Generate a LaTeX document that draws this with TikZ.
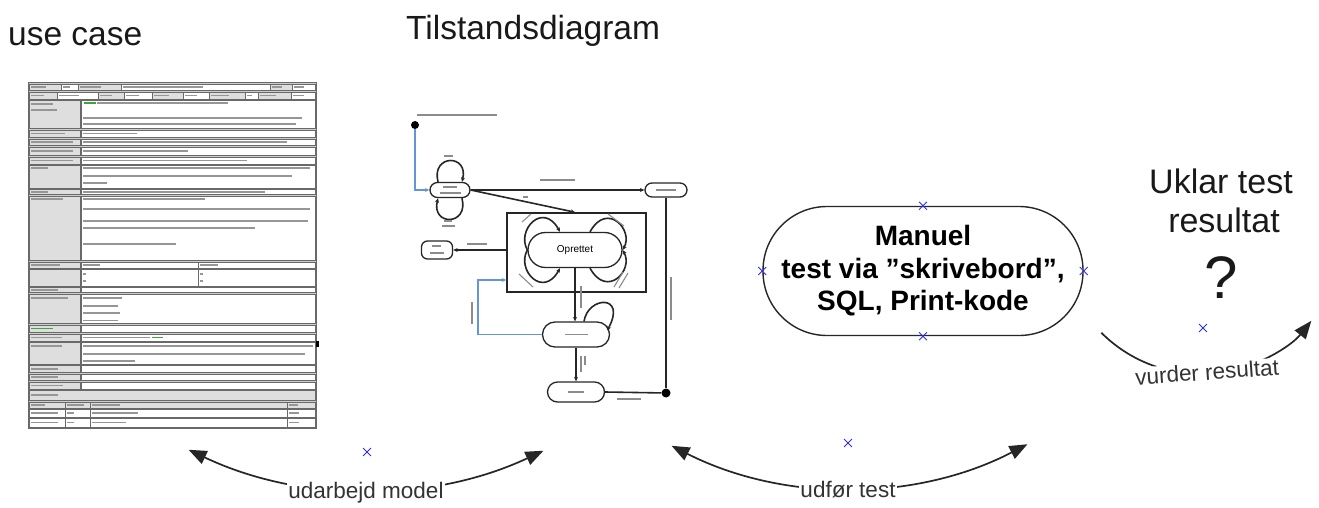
\documentclass[tikz,border=0pt]{standalone}
\usepackage{fontspec}
\setmainfont{Liberation Sans}
\usetikzlibrary{arrows.meta,calc,shapes.misc}

\definecolor{handleblue}{RGB}{45,45,235}
\definecolor{flowblue}{RGB}{100,150,215}
\definecolor{cellgrey}{RGB}{222,222,222}
\definecolor{gridbg}{RGB}{205,205,205}
\definecolor{gridline}{RGB}{105,105,105}
\definecolor{txtgrey}{RGB}{150,150,150}
\definecolor{linkgreen}{RGB}{60,165,60}

\begin{document}
\begin{tikzpicture}[x=1pt,y=-1pt,
  title/.style={anchor=base west, inner sep=0pt, font=\fontsize{33.5}{40}\selectfont, text=black!90},
  cyclelabel/.style={fill=white, inner sep=1pt, text=black!80, font=\fontsize{22.5}{27}\selectfont},
  cyclearc/.style={draw=black!85, line width=1.7pt, -{Triangle[length=18pt,width=14pt]}},
  cycledouble/.style={cyclearc, {Triangle[length=18pt,width=14pt]}-{Triangle[length=18pt,width=14pt]}},
  handle/.style={cross out, draw=handleblue, minimum size=7pt, inner sep=0pt, line width=0.9pt},
  testbox/.style={draw=black!85, line width=1.4pt, rounded corners=64pt, minimum width=320pt,
    minimum height=129pt, align=center, font=\bfseries\fontsize{28}{32.5}\selectfont},
  bigtext/.style={anchor=base, inner sep=0pt, font=\fontsize{34}{39}\selectfont, text=black!90},
  cellline/.style={draw=gridline, line width=0.7pt},
  txtbar/.style={draw=txtgrey, line width=1.4pt},
  greenbar/.style={draw=linkgreen, line width=1.4pt},
  sdline/.style={draw=black!85, line width=1.6pt},
  sdflow/.style={draw=flowblue, line width=1.4pt},
  sdstate/.style={draw=black!85, line width=1.3pt, fill=white, inner sep=0pt},
  sdtxt/.style={draw=black!45, line width=1.1pt},
  sddot/.style={circle, fill=black, inner sep=0pt},
  sdtip/.style={-{Stealth[length=4.5pt,width=4pt]}}
]
\useasboundingbox (0,0) rectangle (1319,508);

% ---------- headings ----------
\node[title] (ucTitle) at (8,46) {use case};
\node[title] (sdTitle) at (406,40) {Tilstandsdiagram};

% ---------- use case document ----------
\fill[gridbg] (28,83) rectangle (316,428);
% header rows
\foreach \a/\b/\f in {29/61/cellgrey, 61/78/white, 78/121/cellgrey, 121/270/white, 270/292/cellgrey, 292/315/white}
  {\filldraw[cellline, fill=\f] (\a,84) rectangle (\b,90);
   \draw[txtbar] (\a+2,87) -- ({\a+2+0.55*(\b-\a-4)},87);}
\foreach \a/\b/\f in {29/57/cellgrey, 57/98/white, 98/124/cellgrey, 124/152/white, 152/183/cellgrey, 183/209/white, 209/245/cellgrey, 245/258/white, 258/291/cellgrey, 291/315/white}
  {\filldraw[cellline, fill=\f] (\a,92) rectangle (\b,99);
   \draw[txtbar] (\a+2,95.5) -- ({\a+2+0.55*(\b-\a-4)},95.5);}
% body rows: label cell + content cell
\foreach \t/\b in {100/128, 130/137, 139/145.5, 147/155, 157/164, 165/188, 189.5/194.5, 196/260,
                   287/292.5, 294/323, 325/332, 334/341, 342/364, 365.5/372, 374/380.5, 382/389}
  {\filldraw[cellline, fill=cellgrey] (29,\t) rectangle (80,\b);
   \filldraw[cellline, fill=white] (81,\t) rectangle (315,\b);}
% rows with two content columns
\foreach \t/\b in {262/268, 269/286}
  {\filldraw[cellline, fill=cellgrey] (29,\t) rectangle (80,\b);
   \filldraw[cellline, fill=white] (81,\t) rectangle (198,\b);
   \filldraw[cellline, fill=white] (198,\t) rectangle (315,\b);}
% revision history
\filldraw[cellline, fill=cellgrey] (29,390.5) rectangle (315,400.5);
\foreach \t/\b/\f in {402/408.5/cellgrey, 409.5/417/white, 418/427/white}
  {\foreach \a/\c in {29/65, 65/90, 90/287, 287/315}
     {\filldraw[cellline, fill=\f] (\a,\t) rectangle (\c,\b);}}
\draw[line width=1pt, draw=gridline] (28,83) rectangle (316,428);
\fill[black] (316,341) rectangle (318.5,347);

% label column text
\foreach \y/\e in {104/53, 110/57, 133.5/65, 142/73, 151/73, 160.5/73, 168/48, 192/48, 199/63,
                   265/60, 290/58, 298/68, 337.5/62, 346/62, 369/58, 377/58, 385.5/63, 395/58}
  {\draw[txtbar] (31,\y) -- (\e,\y);}
\draw[greenbar] (31,328.5) -- (53,328.5);
% content column text
\foreach \y/\s/\e in {103/97/228, 118/83/302, 124/83/296, 133.5/83/137, 142/83/287, 151/83/188,
                      160.5/83/247, 168/83/310, 176/83/292, 183/83/107, 192/83/265,
                      199/83/205, 209/83/310, 221/83/308, 228/83/255, 244/83/176,
                      265/83/100, 265/200/218, 274/83/86, 274/200/203, 281/83/86, 281/200/203,
                      298/83/122, 306/83/118, 313/83/120, 320.5/83/118,
                      337.5/83/150, 346/83/313, 354/83/305, 361/83/135,
                      405/31/45, 405/67/84, 405/92/120, 405/289/298,
                      413/31/58, 413/67/74, 413/92/138, 413/289/299,
                      422.5/31/58, 422.5/67/74, 422.5/92/126, 422.5/289/299}
  {\draw[txtbar] (\s,\y) -- (\e,\y);}
\draw[greenbar] (84,103) -- (96,103);
\draw[greenbar] (152,337.5) -- (163,337.5);

% ---------- state diagram ----------
\draw[sdtxt] (417,115) -- (497,115);
\node[sddot, minimum size=8pt] (sdStart) at (415,125) {};
\node[sdstate, minimum width=40pt, minimum height=15pt, rounded corners=7.5pt] (sdDraft) at (450,190) {};
\node[sdstate, minimum width=42pt, minimum height=14pt, rounded corners=7pt] (sdCancel) at (666,190) {};
\node[sdstate, minimum width=31pt, minimum height=18pt, rounded corners=6pt] (sdFull) at (437,250) {};
\node[draw=black!85, line width=1.5pt, minimum width=139pt, minimum height=79pt, inner sep=0pt] (sdBox) at (576.5,252.5) {};
\node[sdstate, minimum width=94pt, minimum height=35pt, rounded corners=17.5pt,
      font=\fontsize{10}{12}\selectfont] (sdCreated) at (575,250) {Oprettet};
\node[sdstate, minimum width=67pt, minimum height=25pt, rounded corners=12.5pt] (sdAnswered) at (576,334.5) {};
\node[sdstate, minimum width=57pt, minimum height=20pt, rounded corners=10pt] (sdClosed) at (576,392) {};
\node[sddot, minimum size=9pt] (sdJoin) at (666,393) {};

% text inside the small states
\draw[sdtxt] (443,187) -- (457,187);
\draw[sdtxt] (440,193) -- (461,193);
\draw[sdtxt] (656,190) -- (676,190);
\draw[sdtxt] (432,246) -- (441,246);
\draw[sdtxt] (430,253) -- (444,253);
\draw[sdtxt] (565,334.5) -- (588,334.5);
\draw[sdtxt] (568,392) -- (584,392);

% transitions
\draw[sdflow, sdtip] (sdStart) |- (sdDraft.west);
\draw[sdline, sdtip] ($(sdDraft.north)+(-12,0)$) .. controls +(-7,-28) and +(7,-28) .. ($(sdDraft.north)+(12,0)$);
\draw[sdline, sdtip] ($(sdDraft.south)+(12,0)$) .. controls +(7,28) and +(-7,28) .. ($(sdDraft.south)+(-12,0)$);
\draw[sdtxt] (444,156) -- (453,156);
\draw[sdtxt] (444,221) -- (452,221);
\draw[sdtxt] (442,226) -- (455,226);
\draw[sdline, sdtip] (sdDraft.east) -- (sdCancel.west);
\draw[sdtxt] (540,180) -- (575,180);
\draw[sdline, sdtip] (sdDraft.east) -- ($(sdBox.north west)!0.49!(sdBox.north east)$);
\draw[sdtxt] (523,197) -- (528,197);
\draw[sdline, sdtip] (sdBox.west |- sdFull.east) -- (sdFull.east);
\draw[sdtxt] (467,244) -- (487,244);

% loops round the created state
\draw[sdline, sdtip] (sdCreated.west) .. controls (516,230) and (543,201) .. ($(sdCreated.north)+(-15,0)$);
\draw[sdline, sdtip] ($(sdCreated.north)+(15,0)$) .. controls (607,201) and (634,230) .. (sdCreated.east);
\draw[sdline, sdtip] (sdCreated.west) .. controls (516,270) and (543,299) .. ($(sdCreated.south)+(-15,0)$);
\draw[sdline, sdtip] ($(sdCreated.south)+(15,0)$) .. controls (607,299) and (634,270) .. (sdCreated.east);
\draw[sdtxt] (522,222) -- (531,214);
\draw[sdtxt] (608,214) -- (624,226);
\draw[sdtxt] (519,274) -- (533,287);
\draw[sdtxt] (623,272) -- (614,287);
\draw[sdtxt] (628,273) -- (619,288);

\draw[sdline, sdtip] (sdCreated.south) -- (sdCreated.south |- sdAnswered.north);
\draw[sdtxt] (581,286) -- (581,308);
\draw[sdline, sdtip] ($(sdAnswered.north)+(8,0)$) .. controls (588,296) and (627,294) .. ($(sdAnswered.east)+(-3,-4)$);
\coordinate (sdBend) at (478,280);
\draw[sdflow, sdtip] (sdAnswered.west) -| (sdBend) -- (sdBend -| sdBox.west);
\draw[sdtxt] (472,302) -- (472,324);
\draw[sdline, sdtip] (sdAnswered.south) -- (sdAnswered.south |- sdClosed.north);
\draw[sdtxt] (581,356) -- (581,372);
\draw[sdtxt] (585,356) -- (585,365);
\draw[sdline] (sdClosed.east) -- (sdJoin);
\draw[sdtxt] (617,399) -- (641,399);
\draw[sdline] (sdCancel.south) -- (sdJoin);
\draw[sdtxt] (671,277) -- (671,320);

% ---------- manual test ----------
\node[testbox] (test) at (923,271) {Manuel\\test via ”skrivebord”,\\SQL, Print-kode};
\node[handle] (hTop) at (test.north) {};
\node[handle] (hBottom) at (test.south) {};
\node[handle] (hLeft) at (test.west) {};
\node[handle] (hRight) at (test.east) {};

% ---------- outcome ----------
\node[bigtext] (outcomeA) at (1221,193) {Uklar test};
\node[bigtext] (outcomeB) at (1224,232) {resultat};
\node[bigtext, font=\fontsize{60}{60}\selectfont] (outcomeQ) at (1221,298) {?};
\node[handle] (hOutcome) at (1203,328) {};

% ---------- cycle arrows ----------
\node[handle] (hModel) at (367,452) {};
\coordinate (cModel) at (367,74);
\draw[cycledouble] ($(cModel)+(115.4:416)$) arc[start angle=115.4, end angle=64.9, radius=416];
\node[cyclelabel] (lblModel) at (366,493) {udarbejd model};

\node[handle] (hRun) at (848,443) {};
\coordinate (cRun) at (848,98);
\draw[cycledouble] ($(cRun)+(116.9:390)$) arc[start angle=116.9, end angle=62.6, radius=390];
\node[cyclelabel] (lblRun) at (848,490) {udfør test};

\coordinate (cJudge) at (1201,233);
\draw[cyclearc] ($(cJudge)+(135:141)$) arc[start angle=135, end angle=38.5, radius=141];
\node[cyclelabel, rotate=4] (lblJudge) at (1207,372) {vurder resultat};
\end{tikzpicture}
\end{document}
